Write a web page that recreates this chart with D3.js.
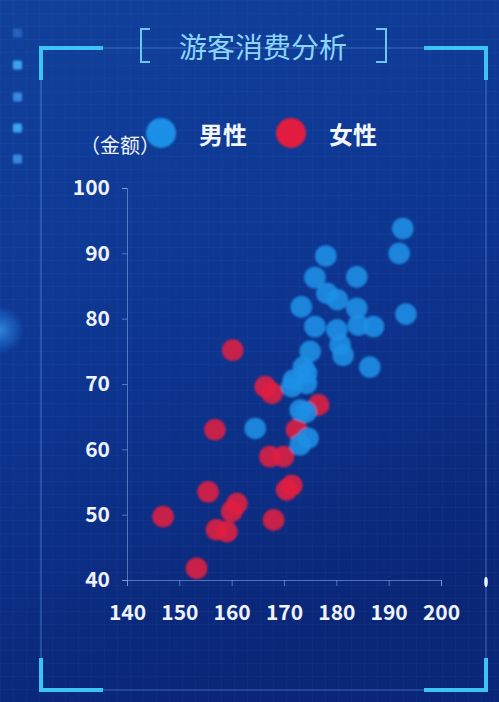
<!DOCTYPE html>
<html>
<head>
<meta charset="utf-8">
<script src="https://cdn.jsdelivr.net/npm/d3@7/dist/d3.min.js"></script>
<style>
  html, body { margin: 0; padding: 0; background: #0c3286; }
  svg { display: block; }
</style>
</head>
<body>
<div id="chart"></div>
<script>
// 数据：身高(cm), 金额
const maleData = [
  [192.7, 93.8], [192.0, 90.0], [178.0, 89.6], [175.9, 86.3], [183.9, 86.4],
  [178.2, 83.9], [180.2, 82.9], [173.3, 81.8], [183.9, 81.6], [193.3, 80.7],
  [175.9, 78.8], [180.1, 78.3], [184.2, 79.0], [187.1, 78.8], [180.7, 76.0],
  [181.3, 74.4], [175.0, 75.0], [186.4, 72.6], [173.7, 72.6], [174.3, 71.7],
  [171.8, 70.6], [171.5, 69.6], [174.3, 70.1], [173.1, 66.0], [174.2, 65.7],
  [174.6, 61.7], [173.1, 60.7], [164.5, 63.2]
];
const femaleData = [
  [160.2, 75.2], [166.4, 69.6], [167.7, 68.6], [176.6, 66.8], [156.8, 63.0],
  [172.4, 63.0], [167.3, 58.9], [169.9, 58.9], [155.5, 53.5], [171.5, 54.5],
  [170.5, 53.8], [161.0, 51.7], [160.0, 50.5], [157.1, 47.7], [159.1, 47.4],
  [146.9, 49.7], [168.0, 49.2], [153.3, 41.8]
];
const seriesNames = ["男性", "女性"];
const xTicks = [140, 150, 160, 170, 180, 190, 200];
const yTicks = [40, 50, 60, 70, 80, 90, 100];
const titleText = "游客消费分析";
const yAxisName = "（金额）";

const width = 499, height = 702;
const colors = { "男性": "#1e8fe6", "女性": "#e11f41" };
const frameColor = "#3cc4f2";
const FONT = "'Noto Sans CJK SC', 'Noto Sans', sans-serif";

const svg = d3.select("#chart").append("svg")
  .attr("width", width)
  .attr("height", height);

const defs = svg.append("defs");

// 背景渐变
const bg = defs.append("linearGradient").attr("id", "bg")
  .attr("x1", 0).attr("y1", 0).attr("x2", 0.3).attr("y2", 1);
bg.append("stop").attr("offset", "0%").attr("stop-color", "#11419b");
bg.append("stop").attr("offset", "55%").attr("stop-color", "#0d3590");
bg.append("stop").attr("offset", "100%").attr("stop-color", "#0a2677");

// 网格纹理
const pat = defs.append("pattern").attr("id", "grid")
  .attr("width", 13).attr("height", 13).attr("patternUnits", "userSpaceOnUse");
pat.append("path").attr("d", "M13 0 L0 0 0 13")
  .attr("fill", "none").attr("stroke", "rgba(120,170,255,0.07)").attr("stroke-width", 1);

const blur = defs.append("filter").attr("id", "soft")
  .attr("x", "-20%").attr("y", "-20%").attr("width", "140%").attr("height", "140%");
blur.append("feGaussianBlur").attr("stdDeviation", 0.9);

const glow = defs.append("radialGradient").attr("id", "glow");
glow.append("stop").attr("offset", "0%").attr("stop-color", "#3aa8f5").attr("stop-opacity", 0.7);
glow.append("stop").attr("offset", "60%").attr("stop-color", "#2a8cf0").attr("stop-opacity", 0.35);
glow.append("stop").attr("offset", "100%").attr("stop-color", "#2a8cf0").attr("stop-opacity", 0);

svg.append("rect").attr("width", width).attr("height", height).attr("fill", "url(#bg)");
svg.append("rect").attr("width", width).attr("height", height).attr("fill", "url(#grid)");

// 左侧装饰
const deco = svg.append("g");
[33, 65, 97, 128, 159].forEach((y, i) => {
  deco.append("rect")
    .attr("x", 13).attr("y", y - 4.5).attr("width", 9).attr("height", 9).attr("rx", 1.5)
    .attr("fill", i % 2 ? "#3fa8f7" : "#3a8ce8")
    .attr("opacity", i === 0 ? 0.45 : 0.95)
    .attr("filter", "url(#soft)");
});
deco.append("circle").attr("cx", 0).attr("cy", 330).attr("r", 24).attr("fill", "url(#glow)");

// 边框细线
const frame = svg.append("g");
frame.append("path")
  .attr("d", "M41 48 H486 V690 H41 Z")
  .attr("fill", "none").attr("stroke", "rgba(110,170,240,0.45)").attr("stroke-width", 1.2);

// 四角
const cornerLen = 62, cornerH = 32;
const corners = [
  `M${41 + cornerLen} 48 H41 V${48 + cornerH}`,
  `M${486 - cornerLen} 48 H486 V${48 + cornerH}`,
  `M${41 + cornerLen} 690 H41 V${690 - cornerH}`,
  `M${486 - cornerLen} 690 H486 V${690 - cornerH}`
];
corners.forEach(d => {
  frame.append("path").attr("d", d)
    .attr("fill", "none").attr("stroke", frameColor).attr("stroke-width", 4);
});
frame.append("ellipse").attr("cx", 486).attr("cy", 582).attr("rx", 1.8).attr("ry", 5)
  .attr("fill", "#e8f4ff");

// 标题
const title = svg.append("g");
title.append("path").attr("d", "M150 29 H141 V62 H150")
  .attr("fill", "none").attr("stroke", "#6cc6f0").attr("stroke-width", 2);
title.append("path").attr("d", "M376 29 H386 V62 H376")
  .attr("fill", "none").attr("stroke", "#6cc6f0").attr("stroke-width", 2);
title.append("text")
  .attr("x", 263).attr("y", 46)
  .attr("text-anchor", "middle").attr("dominant-baseline", "central")
  .attr("font-family", FONT).attr("font-size", 28)
  .attr("fill", "#8dd6fb")
  .text(titleText);

// 比例尺
const x = d3.scaleLinear().domain([140, 200]).range([127, 441]);
const y = d3.scaleLinear().domain([40, 100]).range([580, 188]);

const axisColor = "rgba(150,190,240,0.5)";

// X轴
const gx = svg.append("g").attr("transform", "translate(0,580)")
  .call(d3.axisBottom(x).tickValues(xTicks).tickSize(6).tickPadding(19));
gx.select(".domain").attr("stroke", axisColor);
gx.selectAll(".tick line").attr("stroke", axisColor);
gx.selectAll(".tick text")
  .attr("fill", "#eef3ff").attr("font-family", FONT).attr("font-size", 21)
  .attr("font-weight", "bold");

// Y轴
const gy = svg.append("g").attr("transform", "translate(127,0)")
  .call(d3.axisLeft(y).tickValues(yTicks).tickSize(5).tickPadding(12));
gy.select(".domain").attr("stroke", axisColor);
gy.selectAll(".tick line").attr("stroke", axisColor);
gy.selectAll(".tick text")
  .attr("fill", "#eef3ff").attr("font-family", FONT).attr("font-size", 21)
  .attr("font-weight", "bold");

// Y轴名称
svg.append("text")
  .attr("x", 120).attr("y", 144)
  .attr("text-anchor", "middle").attr("dominant-baseline", "central")
  .attr("font-family", FONT).attr("font-size", 20)
  .attr("fill", "#eef3ff")
  .text(yAxisName);

// 散点
const plot = svg.append("g").attr("filter", "url(#soft)");
const drawSeries = (data, color) => {
  plot.append("g").selectAll("circle")
    .data(data)
    .join("circle")
    .attr("cx", d => x(d[0]))
    .attr("cy", d => y(d[1]))
    .attr("r", 10.8)
    .attr("fill", color)
    .attr("fill-opacity", 0.88);
};
drawSeries(femaleData, colors["女性"]);
drawSeries(maleData, colors["男性"]);

// 图例
const legendX = [161, 291];
seriesNames.forEach((name, i) => {
  const lg = svg.append("g").attr("transform", `translate(${legendX[i]},133)`);
  lg.append("circle").attr("r", 15).attr("fill", colors[name]).attr("filter", "url(#soft)");
  lg.append("text")
    .attr("x", 38).attr("y", 0)
    .attr("dominant-baseline", "central")
    .attr("font-family", FONT).attr("font-size", 24)
    .attr("font-weight", "bold")
    .attr("fill", "#f2f6ff")
    .text(name);
});
</script>
</body>
</html>
